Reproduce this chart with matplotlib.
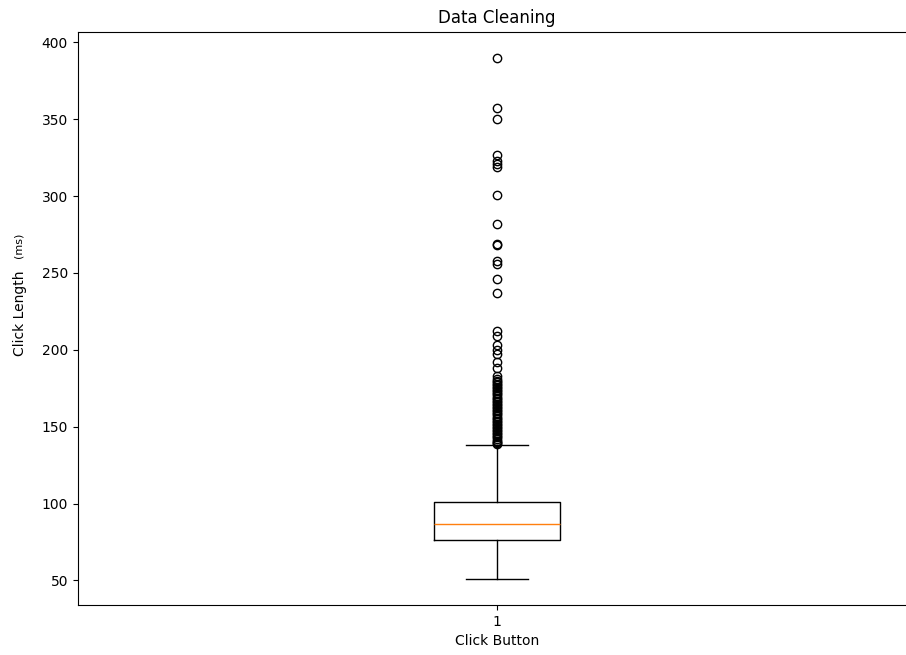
import matplotlib
matplotlib.use("Agg")
import matplotlib.pyplot as plt

# Box summary for click length (ms)
q1, med, q3 = 76.3, 87.0, 101.0
whislo, whishi = 51.0, 138.3

# Outliers above the upper whisker
fliers = [
    390, 357, 350, 327, 323, 321, 319, 301, 282,
    269, 268, 258, 256, 246, 237,
    212, 209, 203, 200, 197, 192, 188,
    183, 181, 180, 179, 178, 177, 176, 175, 174, 173, 172, 171, 170,
    169, 168, 167, 166, 165, 164, 163, 162, 161, 160, 159, 158, 157,
    156, 155, 154, 153, 152, 151, 150, 149, 148, 147, 146, 145, 144,
    143, 142, 141, 140, 139.5, 139,
]

stats = [dict(med=med, q1=q1, q3=q3, whislo=whislo, whishi=whishi,
              fliers=fliers, label="1")]

fig = plt.figure(figsize=(9.06, 6.55), dpi=100)
# axes run a little past the right edge of the canvas
ax = fig.add_axes([0.0858, 0.0763, 0.9256, 0.8754])
ax.bxp(stats, positions=[1], widths=0.15)

ax.set_title("Data Cleaning", fontsize=12)
ax.set_xlabel("Click Button")
ax.set_ylabel("Click Length")
ax.yaxis.set_label_coords(-0.0605, 0.509)
fig.text(18.5 / 906, 1 - 245.5 / 655, "(ms)", fontsize=8, rotation=90,
         ha="center", va="center")

fig.savefig("out.png", dpi=100)
